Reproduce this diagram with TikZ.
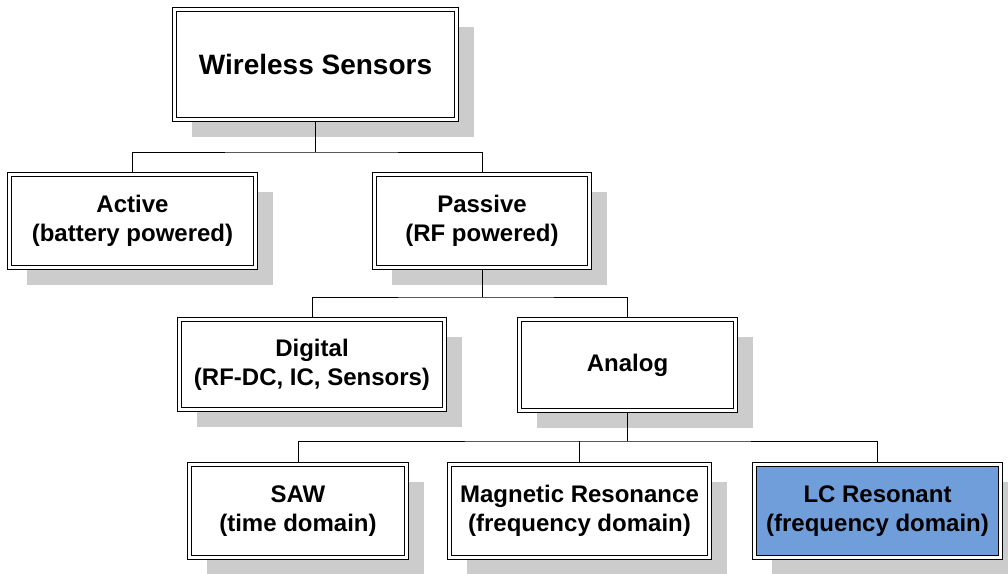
\documentclass[tikz,border=0pt]{standalone}
\usepackage{fontspec}
\setmainfont{Liberation Sans}
\usetikzlibrary{shadows}
\definecolor{shadowgray}{RGB}{204,204,204}
\definecolor{lcblue}{RGB}{112,158,218}
\tikzset{
  box/.style={rectangle, draw=black, line width=1.1pt, double=white,
    double distance=2.2pt, fill=white, outer sep=2.2pt, inner sep=0pt,
    align=center, font=\fontsize{24}{29}\selectfont\bfseries,
    drop shadow={shadow xshift=17pt, shadow yshift=-17pt, fill=shadowgray, opacity=1}},
  title/.style={font=\fontsize{28}{34}\selectfont\bfseries},
  link/.style={draw=black, line width=0.9pt},
}
\begin{document}
\begin{tikzpicture}[x=1pt, y=-1pt]
  \useasboundingbox (0,0) rectangle (1008,573);
  \clip (0,0) rectangle (1008,573);

  % top level
  \node[box, title, minimum width=282pt, minimum height=110pt] (ws) at (315.5,64.5) {Wireless Sensors};

  % power source
  \node[box, minimum width=246pt, minimum height=93pt] (act) at (132.5,221) {Active\\(battery powered)};
  \node[box, minimum width=215pt, minimum height=93pt] (pas) at (482,221) {Passive\\(RF powered)};

  % passive types
  \node[box, minimum width=265pt, minimum height=90pt] (dig) at (312,364.5) {Digital\\(RF-DC, IC, Sensors)};
  \node[box, minimum width=216pt, minimum height=91pt] (ana) at (627.5,365) {Analog};

  % analog types
  \node[box, minimum width=217pt, minimum height=93pt] (saw) at (298,511) {SAW\\(time domain)};
  \node[box, minimum width=260pt, minimum height=93pt] (mr) at (579.5,511) {Magnetic Resonance\\(frequency domain)};
  \node[box, fill=lcblue, minimum width=246pt, minimum height=93pt] (lc) at (877.5,511) {LC Resonant\\(frequency domain)};

  % tree connectors
  \coordinate (b1) at (315.5,152);
  \coordinate (b2) at (482,297);
  \coordinate (b3) at (627.5,441);
  \draw[link] (ws.south) -- (b1);
  \draw[link] (act.north) |- (b1) -| (pas.north);
  \draw[link] (pas.south) -- (b2);
  \draw[link] (dig.north) |- (b2) -| (ana.north);
  \draw[link] (ana.south) -- (b3);
  \draw[link] (saw.north) |- (b3) -| (lc.north);
  \draw[link] (mr.north) -- (mr.north |- b3);
\end{tikzpicture}
\end{document}
